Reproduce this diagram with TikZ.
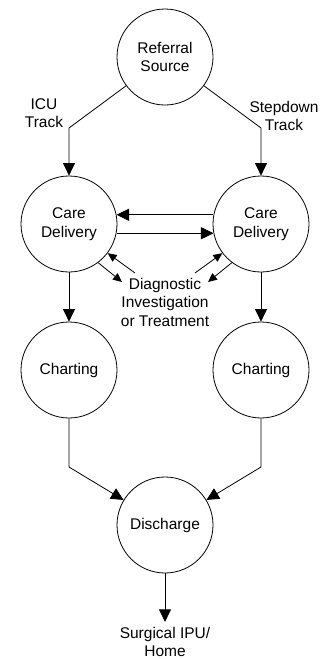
\documentclass[tikz,border=0pt]{standalone}
\usepackage{fontspec}
\setmainfont{Liberation Sans}
\usetikzlibrary{arrows.meta}
\begin{document}
\begin{tikzpicture}[x=1pt,y=-1pt,
  every node/.style={font=\fontsize{15.5}{18.5}\selectfont},
  state/.style={draw,circle,minimum size=96pt,inner sep=0pt,align=center,line width=0.8pt},
  lbl/.style={align=center,inner sep=0pt},
  conn/.style={line width=0.8pt,-{Triangle[length=12.5pt,width=12pt]}},
  plain/.style={line width=0.8pt},
  small/.style={line width=0.8pt,-{Triangle[length=9pt,width=8pt]}}]
\useasboundingbox (0,0) rectangle (325,659);
\node[state] (ref) at (165,57) {Referral\\Source};
\node[state] (cdl) at (69,224) {Care\\Delivery};
\node[state] (cdr) at (261,224) {Care\\Delivery};
\node[state] (chl) at (69,370) {Charting};
\node[state] (chr) at (261,370) {Charting};
\node[state] (dis) at (165,525) {Discharge};
\node[lbl] (icu) at (44,113) {ICU\\Track};
\node[lbl] (step) at (284,116) {Stepdown\\Track};
\node[lbl] (diag) at (165,302) {Diagnostic\\Investigation\\or Treatment};
\node[lbl] (out) at (165,642) {Surgical IPU/\\Home};
\coordinate (bl) at (69,128);
\coordinate (br) at (261,128);
\coordinate (dl) at (69,467);
\coordinate (dr) at (261,467);
\coordinate (d1) at (122,282);
\coordinate (d2) at (135,273);
\coordinate (d3) at (208,282);
\coordinate (d4) at (195,273);
\draw[conn] (ref) -- (bl) -- (cdl);
\draw[conn] (ref) -- (br) -- (cdr);
\draw[conn] (cdr.169) -- (cdl.11);
\draw[conn] (cdl.-11) -- (cdr.191);
\draw[conn] (cdl) -- (chl);
\draw[conn] (cdr) -- (chr);
\draw[conn] (chl) -- (dl) -- (dis);
\draw[conn] (chr) -- (dr) -- (dis);
\draw[conn,shorten >=5pt] (dis) -- (out);
\draw[small] (cdl.-53) -- (d1);
\draw[small] (d2) -- (cdl.-37);
\draw[small] (cdr.-127) -- (d3);
\draw[small] (d4) -- (cdr.-143);
\end{tikzpicture}
\end{document}
